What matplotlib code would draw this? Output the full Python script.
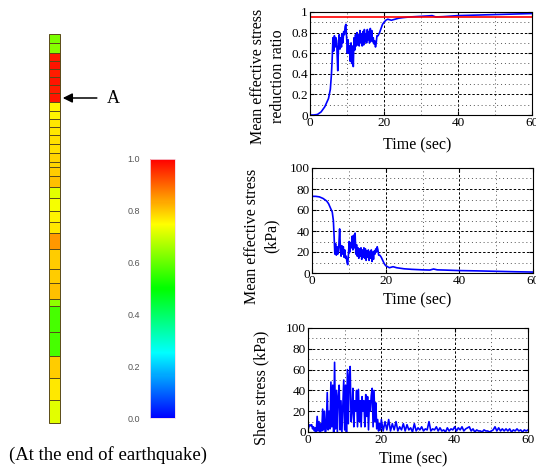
import numpy as np
import matplotlib.pyplot as plt
from matplotlib.colors import LinearSegmentedColormap, Normalize
from matplotlib.cm import ScalarMappable

plt.rcParams['font.family'] = 'Liberation Serif'

# soil column: element boundaries (depth from top) and reduction ratio at the end
cell_edges = [0, 9, 18.5, 26.5, 34.5, 42.5, 51, 59, 67.5, 76.5, 85, 93, 101, 110, 118.5,
              127.5, 132.5, 142, 153, 164, 176.5, 188, 199, 215, 235, 249, 265, 272,
              297.5, 322, 344, 366, 389]
cell_values = [0.62, 0.63, 0.97, 0.98, 0.97, 0.98, 0.97, 0.98, 0.76, 0.76, 0.77, 0.77,
               0.78, 0.78, 0.79, 0.79, 0.80, 0.81, 0.72, 0.74, 0.76, 0.77, 0.85, 0.80,
               0.80, 0.81, 0.64, 0.57, 0.57, 0.80, 0.77, 0.72]
point_a_depth = 64

# colour scale
scale_stops = [0.0, 0.25, 0.5, 0.75, 1.0]
scale_colors = ['#0000ff', '#00ffff', '#00ff00', '#ffff00', '#ff0000']
cbar_ticks = [0.0, 0.2, 0.4, 0.6, 0.8, 1.0]

# time histories at point A
t_mean = [0, 1, 2, 3, 4, 4.5, 5, 5.5, 5.8, 6.0, 6.2, 6.4, 6.6, 6.8, 7.0, 7.2, 7.5,
          7.7, 7.9, 8.1, 8.3, 8.5, 8.7, 8.9, 9.1, 9.3, 9.5, 9.7, 9.9, 10.1, 10.3, 10.5,
          10.7, 10.9, 11.1, 11.3, 11.5, 11.7, 11.9, 12.1, 12.3, 12.5, 12.7, 12.9, 13.1,
          13.3, 13.5, 13.7, 13.9, 14.1, 14.3, 14.5, 14.7, 14.9, 15.1, 15.3, 15.5, 15.7,
          15.9, 16.1, 16.3, 16.5, 16.7, 16.9, 17.1, 17.3, 17.5, 17.7, 17.9, 18.1,
          18.4, 18.8, 19.2, 19.6, 20, 20.5, 21, 22, 23, 24, 25, 27, 30, 32, 33, 34, 36,
          40, 45, 50, 55, 60]
ratio = [0, 0, 0.005, 0.03, 0.08, 0.12, 0.16, 0.25, 0.4, 0.55, 0.75, 0.62, 0.77, 0.66,
         0.75, 0.72, 0.43,
         0.66, 0.78, 0.64, 0.75, 0.66, 0.79, 0.7, 0.81, 0.78, 0.86, 0.88, 0.75, 0.6,
         0.73, 0.6, 0.67, 0.52, 0.7, 0.5, 0.67, 0.47, 0.75, 0.63, 0.78, 0.67, 0.8,
         0.68, 0.78, 0.67, 0.82, 0.7, 0.79, 0.67, 0.81, 0.68, 0.83, 0.71, 0.79, 0.7,
         0.83, 0.73, 0.81, 0.7, 0.84, 0.72, 0.82, 0.71, 0.75, 0.69, 0.72, 0.66, 0.7,
         0.77,
         0.77, 0.8, 0.84, 0.88,
         0.9, 0.92, 0.93, 0.92, 0.93, 0.94, 0.945, 0.952, 0.958, 0.962, 0.965, 0.952,
         0.955, 0.965, 0.97, 0.975, 0.98, 0.985]
mean_stress = [73, 73, 72.5, 71, 68.5, 66, 62, 58, 50, 35, 18, 28, 17, 25, 18, 20, 42,
               25, 16, 26, 18, 25, 15, 22, 14, 16, 10, 8, 18, 30, 20, 29, 24, 35, 22, 36,
               24, 38, 18, 27, 16, 24, 14, 23, 16, 24, 13, 22, 15, 24, 14, 23, 12, 21, 15,
               22, 12, 20, 14, 22, 11, 20, 13, 21, 18, 23, 20, 25, 22, 17,
               17, 15, 12, 9,
               7, 6, 5, 6, 5, 4.5, 4, 3.5, 3, 2.8, 3.8, 3, 2.8, 2.3, 2, 1.6, 1.2, 0.9]
ratio_limit = 0.95

# shear stress, sampled every 0.25 s up to 20 s and every 0.5 s after
t_shear_main = np.arange(0, 20.01, 0.25)
shear_main = [2, 5, 7, 6, 7, 3, 5, 1, 4, 0, 15, 1, 10, 0, 8, 1, 22, 2, 20, 0,
              5, 38, 2, 20, 3, 48, 5, 45, 0, 67, 3, 40, 0, 35, 45, 2, 30, 0, 25, 50,
              2, 45, 0, 60, 8, 55, 63, 10, 20, 42, 5, 30, 20, 40, 5, 41, 10, 30, 5, 34,
              20, 30, 5, 36, 15, 34, 2, 30, 20, 35, 42, 5, 40, 10, 28, 3, 12, 1, 8, 2,
              12]
t_shear_tail = np.arange(20.5, 60.01, 0.5)
shear_tail = [1, 10, 2, 12, 1, 8, 2, 10, 1, 5, 2, 8, 1, 7, 2, 4, 0, 8, 1, 4,
              2, 5, 1, 3, 2, 10, 1, 3, 2, 5, 1, 4, 1, 2, 0, 4, 1, 3, 2, 5,
              1, 4, 2, 5, 1, 3, 4, 5, 1, 3, 0, 2, 1, 1, 0, 2, 1, 1, 0, 1,
              2, 5, 1, 4, 1, 3, 1, 3, 1, 3, 0, 2, 1, 3, 1, 2, 0, 2, 1, 2]

W, H = 536, 468


def rect(left, top, right, bottom):
    return [left / W, 1 - bottom / H, (right - left) / W, (bottom - top) / H]


fig = plt.figure(figsize=(W / 100, H / 100), dpi=100)
cmap = LinearSegmentedColormap.from_list('ru', list(zip(scale_stops, scale_colors)))
norm = Normalize(0, 1)

# --- column of elements ---
axc = fig.add_axes(rect(49, 34, 60, 423))
for top, bot, val in zip(cell_edges[:-1], cell_edges[1:], cell_values):
    axc.bar(0.5, bot - top, bottom=top, width=1, color=cmap(norm(val)),
            edgecolor='#5a4a1a', linewidth=0.7, clip_on=False)
axc.set_xlim(0, 1)
axc.set_ylim(cell_edges[-1], cell_edges[0])
axc.axis('off')
axc.annotate('', xy=(1.0, point_a_depth), xytext=(4.6, point_a_depth),
             arrowprops=dict(arrowstyle='-|>', color='black', lw=1.1, mutation_scale=14),
             annotation_clip=False)
axc.text(5.25, point_a_depth, 'A', fontsize=13, va='center', ha='left', clip_on=False)
fig.text(108 / W, 1 - 455 / H, '(At the end of earthquake)', ha='center', va='center',
         fontsize=13.5)

# --- colour bar ---
cax = fig.add_axes(rect(150, 159, 175, 418))
cb = fig.colorbar(ScalarMappable(norm=norm, cmap=cmap), cax=cax, ticks=cbar_ticks)
cb.outline.set_edgecolor('#f4d8e4')
cb.outline.set_linewidth(0.6)
cax.yaxis.set_ticks_position('left')
cax.tick_params(length=0, pad=7, labelsize=6.5, labelcolor='#555555')
cax.set_yticklabels(['%.1f' % v for v in cbar_ticks], fontfamily='Liberation Sans')


def style(ax, ymax, ystep):
    ax.set_xlim(0, 60)
    ax.set_ylim(0, ymax)
    ax.set_xticks([0, 20, 40, 60])
    ax.set_xticks([10, 30, 50], minor=True)
    ax.set_yticks(np.arange(0, ymax + ystep / 2, ystep))
    ax.set_yticks(np.arange(ystep / 2, ymax, ystep), minor=True)
    ax.grid(which='major', color='black', linestyle=(0, (2.5, 2)), linewidth=0.7)
    ax.grid(which='minor', color='#555555', linestyle=(0, (1, 3)), linewidth=0.7)
    ax.tick_params(which='both', direction='in', top=True, right=True, labelsize=9.5,
                   pad=1.5, length=3)
    ax.tick_params(which='minor', length=0)
    for s in ax.spines.values():
        s.set_linewidth(0.8)


ax1 = fig.add_axes(rect(310, 12, 532, 115))
ax1.plot(t_mean, ratio, color='#0000ff', lw=1.2)
ax1.axhline(ratio_limit, color='#ff0000', lw=1.2)
style(ax1, 1, 0.2)
ax1.set_yticklabels(['0', '0.2', '0.4', '0.6', '0.8', '1'])
fig.text(268 / W, 1 - 76 / H, 'Mean effective stress\nreduction ratio', rotation=90,
         ha='center', va='center', fontsize=11.5, linespacing=1.25)
fig.text(417 / W, 1 - 145 / H, 'Time (sec)', ha='center', va='center', fontsize=11.5)

ax2 = fig.add_axes(rect(312, 168, 533, 273))
ax2.plot(t_mean, mean_stress, color='#0000ff', lw=1.2)
style(ax2, 100, 20)
fig.text(262 / W, 1 - 236 / H, 'Mean effective stress\n(kPa)', rotation=90,
         ha='center', va='center', fontsize=11.5, linespacing=1.25)
fig.text(417 / W, 1 - 300 / H, 'Time (sec)', ha='center', va='center', fontsize=11.5)

ax3 = fig.add_axes(rect(308, 328, 528, 432))
ax3.plot(np.concatenate([t_shear_main, t_shear_tail]), shear_main + shear_tail,
         color='#0000ff', lw=1.2)
style(ax3, 100, 20)
fig.text(261 / W, 1 - 388 / H, 'Shear stress (kPa)', rotation=90,
         ha='center', va='center', fontsize=11.5)
fig.text(413 / W, 1 - 459 / H, 'Time (sec)', ha='center', va='center', fontsize=11.5)

fig.savefig('out.png', dpi=100)
